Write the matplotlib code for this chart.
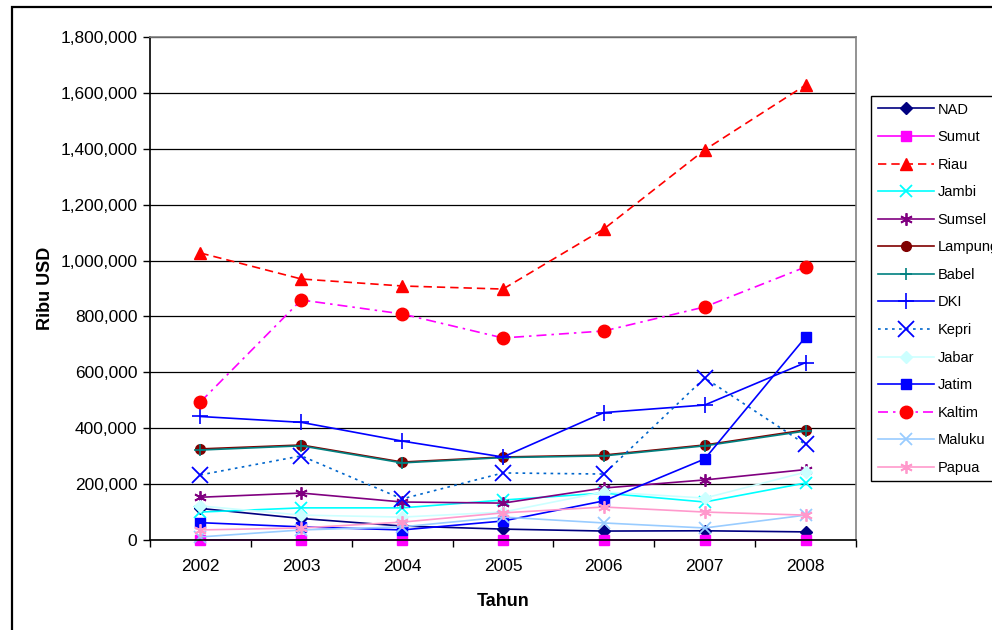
import matplotlib
matplotlib.use("Agg")
import matplotlib.pyplot as plt
from matplotlib.patches import Rectangle
from matplotlib.ticker import FuncFormatter, FixedLocator

plt.rcParams['font.family'] = ['Liberation Sans', 'DejaVu Sans']

years = ["2002", "2003", "2004", "2005", "2006", "2007", "2008"]

nad     = [113000, 77000, 50000, 39000, 32000, 33000, 29000]
sumut   = [1500, 1500, 1500, 1500, 1500, 1500, 1500]
riau    = [1027000, 934000, 909000, 898000, 1113000, 1396000, 1628000]
jambi   = [100000, 115000, 115000, 143000, 168000, 136000, 204000]
sumsel  = [153000, 168000, 136000, 132000, 186000, 215000, 252000]
lampung = [326000, 340000, 279000, 297000, 304000, 340000, 394000]
babel   = [322000, 337000, 276000, 295000, 301000, 337000, 390000]
dki     = [442000, 421000, 354000, 297000, 456000, 483000, 635000]
kepri   = [233000, 301000, 147000, 240000, 236000, 580000, 342000]
jabar   = [122000, 89000, 82000, 100000, 172000, 150000, 243000]
jatim   = [62000, 47000, 36000, 68000, 140000, 290000, 726000]
kaltim  = [494000, 859000, 809000, 723000, 748000, 834000, 977000]
maluku  = [11000, 36000, 47000, 82000, 61000, 43000, 89000]
papua   = [36000, 43000, 64000, 97000, 118000, 100000, 89000]

ASTER = (6, 2, 0)

series = [
    ("NAD", nad, dict(color="#000080", ls="-", marker="D", mfc="#000080", mec="#000080", ms=6)),
    ("Sumut", sumut, dict(color="#FF00FF", ls="-", marker="s", mfc="#FF00FF", mec="#FF00FF", ms=7)),
    ("Riau", riau, dict(color="#FF0000", ls=(0, (5, 3)), marker="^", mfc="#FF0000", mec="#FF0000", ms=9)),
    ("Jambi", jambi, dict(color="#00FFFF", ls="-", marker="x", mfc="none", mec="#00FFFF", ms=8, mew=1.3)),
    ("Sumsel", sumsel, dict(color="#800080", ls="-", marker=ASTER, mfc="none", mec="#800080", ms=9, mew=1.3)),
    ("Lampung", lampung, dict(color="#800000", ls="-", marker="o", mfc="#800000", mec="#800000", ms=7)),
    ("Babel", babel, dict(color="#008080", ls="-", marker="+", mfc="none", mec="#008080", ms=9, mew=1.2)),
    ("DKI", dki, dict(color="#0000FF", ls="-", marker="+", mfc="none", mec="#0000FF", ms=11, mew=1.2)),
    ("Kepri", kepri, dict(color="#0066CC", ls=(0, (1.6, 2.6)), marker="x", mfc="none", mec="#0000FF", ms=11, mew=1.3)),
    ("Jabar", jabar, dict(color="#CCFFFF", ls="-", marker="D", mfc="#CCFFFF", mec="#CCFFFF", ms=6)),
    ("Jatim", jatim, dict(color="#0000FF", ls="-", marker="s", mfc="#0000FF", mec="#0000FF", ms=7)),
    ("Kaltim", kaltim, dict(color="#FF00FF", ls=(0, (6, 3, 1.5, 3)), marker="o", mfc="#FF0000", mec="#FF0000", ms=9)),
    ("Maluku", maluku, dict(color="#99CCFF", ls="-", marker="x", mfc="none", mec="#99CCFF", ms=8, mew=1.3)),
    ("Papua", papua, dict(color="#FF99CC", ls="-", marker=ASTER, mfc="none", mec="#FF99CC", ms=9, mew=1.3)),
]

fig = plt.figure(figsize=(9.92, 6.30), dpi=100)
ax = fig.add_axes([150 / 992, 1 - 540 / 630, (856 - 150) / 992, (540 - 37) / 630])

x = list(range(len(years)))
for name, vals, st in series:
    ax.plot(x, vals, label=name, lw=1.2, clip_on=False, **st)

ax.set_xlim(-0.5, len(years) - 0.5)
ax.set_ylim(0, 1800000)
ax.set_yticks(range(0, 1800001, 200000))
ax.yaxis.set_major_formatter(FuncFormatter(lambda v, p: f"{v:,.0f}"))
ax.grid(axis="y", color="#000000", lw=0.9)
ax.set_axisbelow(True)

ax.set_xticks(x)
ax.set_xticklabels(years)
ax.xaxis.set_minor_locator(FixedLocator([i - 0.5 for i in range(len(years) + 1)]))
ax.tick_params(axis="x", which="major", length=0, pad=14, labelsize=12.5)
ax.tick_params(axis="x", which="minor", length=5, width=1, direction="out")
ax.tick_params(axis="y", length=5, width=1, direction="out", labelsize=12.5, pad=4)

for side in ("left", "bottom"):
    ax.spines[side].set_color("#000000")
    ax.spines[side].set_linewidth(1.2)
for side in ("right", "top"):
    ax.spines[side].set_color("#808080")
    ax.spines[side].set_linewidth(1.2)

ax.set_xlabel("Tahun", fontsize=13, fontweight="bold", labelpad=13)
ax.set_ylabel("Ribu USD", fontsize=13, fontweight="bold", labelpad=5)

leg = ax.legend(loc="upper left", bbox_to_anchor=(871 / 992, 1 - 96 / 630),
                bbox_transform=fig.transFigure, frameon=True, fancybox=False,
                framealpha=1, edgecolor="#000000", fontsize=10.5,
                handlelength=3.9, handletextpad=0.2, labelspacing=0.93,
                borderpad=0.45, borderaxespad=0)
leg.get_frame().set_linewidth(1.0)

fig.patches.append(Rectangle((12 / 992, -0.1), 1.2, 0.1 + (630 - 7) / 630,
                             transform=fig.transFigure, fill=False,
                             edgecolor="#000000", lw=1.6, zorder=10))

fig.savefig("out.png", dpi=100)
